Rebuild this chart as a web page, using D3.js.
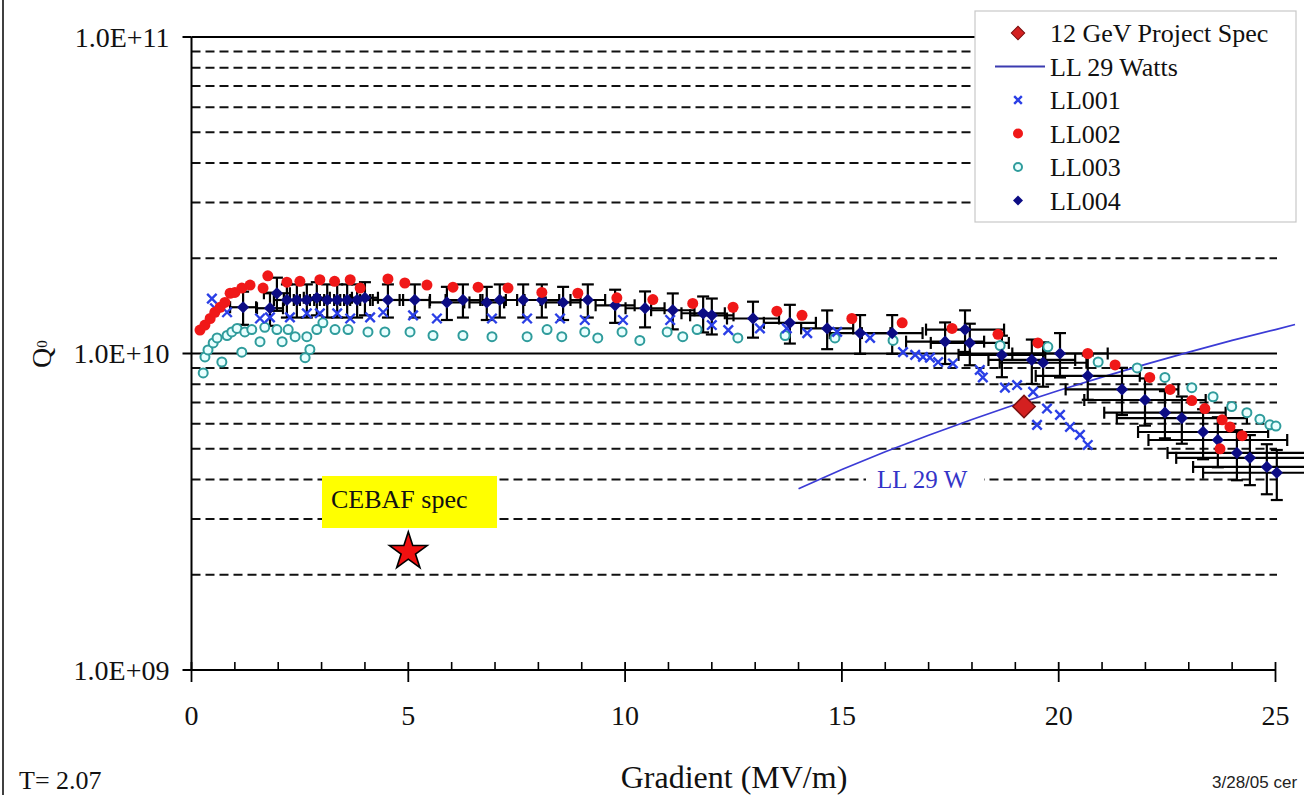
<!DOCTYPE html>
<html><head><meta charset="utf-8">
<script src="https://cdn.jsdelivr.net/npm/d3@7"></script>
<style>
html,body{margin:0;padding:0;background:#fff;}
svg{display:block;}
text{font-family:"Liberation Serif","DejaVu Serif","Times New Roman",serif;}
text.sans{font-family:"Liberation Sans",Arial,sans-serif;}
</style></head><body>
<svg id="c" width="1304" height="795"></svg>
<script>
// ---------------- data ----------------
const ll001E = [0.47,0.54,0.82,1.58,1.81,2.27,2.66,2.96,3.36,3.66,4.12,4.42,5.11,5.66,6.93,7.74,8.50,9.07,9.95,11.04,12.0,12.38,13.11,13.73,14.2,14.89,15.65,16.41,16.69,16.87,17.03,17.22,17.56,18.18,18.25,18.76,19.04,19.41,19.5,19.73,20.03,20.26,20.49,20.67];
const ll001Q = [1.49e10,1.39e10,1.35e10,1.29e10,1.30e10,1.30e10,1.34e10,1.34e10,1.34e10,1.29e10,1.30e10,1.35e10,1.32e10,1.29e10,1.29e10,1.29e10,1.29e10,1.276e10,1.276e10,1.276e10,1.23e10,1.186e10,1.20e10,1.20e10,1.16e10,1.17e10,1.12e10,1.01e10,0.99e10,0.975e10,0.97e10,0.94e10,0.93e10,0.887e10,0.84e10,0.78e10,0.795e10,0.756e10,0.595e10,0.67e10,0.64e10,0.586e10,0.553e10,0.514e10];

const ll002E = [0.196,0.31,0.43,0.54,0.66,0.77,0.89,1.0,1.16,1.35,1.65,1.76,2.2,2.50,2.96,3.3,3.66,3.89,4.53,4.92,5.43,6.03,6.61,7.30,8.08,8.91,9.81,10.64,11.56,12.49,13.5,14.08,15.23,16.39,17.54,18.6,19.52,20.67,21.3,22.1,22.57,23.07,23.37,23.77,23.95,24.23,23.72];
const ll002Q = [1.186e10,1.23e10,1.29e10,1.35e10,1.40e10,1.45e10,1.55e10,1.56e10,1.61e10,1.645e10,1.61e10,1.76e10,1.68e10,1.69e10,1.71e10,1.69e10,1.71e10,1.61e10,1.72e10,1.67e10,1.645e10,1.62e10,1.62e10,1.61e10,1.56e10,1.55e10,1.50e10,1.48e10,1.44e10,1.40e10,1.36e10,1.32e10,1.29e10,1.25e10,1.20e10,1.15e10,1.08e10,1.00e10,0.92e10,0.84e10,0.77e10,0.71e10,0.67e10,0.617e10,0.586e10,0.55e10,0.50e10];

const ll003E = [0.27,0.31,0.38,0.50,0.59,0.70,0.82,0.93,1.05,1.16,1.23,1.39,1.58,1.69,1.97,2.09,2.23,2.39,2.62,2.66,2.73,2.89,3.03,3.31,3.61,4.07,4.46,5.04,5.57,6.26,6.93,7.74,8.2,8.54,9.07,9.37,9.93,10.34,10.97,11.33,11.66,12.6,13.69,14.84,16.18,18.65,19.75,20.91,21.81,22.45,23.07,23.56,23.99,24.34,24.64,24.87,25.01];
const ll003Q = [0.868e10,0.975e10,1.026e10,1.08e10,1.12e10,0.94e10,1.14e10,1.17e10,1.20e10,1.01e10,1.17e10,1.19e10,1.09e10,1.21e10,1.19e10,1.09e10,1.19e10,1.13e10,0.97e10,1.13e10,1.03e10,1.19e10,1.25e10,1.19e10,1.19e10,1.17e10,1.17e10,1.17e10,1.14e10,1.14e10,1.13e10,1.13e10,1.19e10,1.13e10,1.17e10,1.12e10,1.17e10,1.10e10,1.17e10,1.13e10,1.19e10,1.12e10,1.14e10,1.12e10,1.10e10,1.06e10,1.05e10,0.94e10,0.90e10,0.84e10,0.78e10,0.73e10,0.68e10,0.65e10,0.62e10,0.595e10,0.59e10];

const ll004E = [1.19,1.81,1.97,2.20,2.43,2.66,2.89,3.13,3.36,3.59,3.82,4.0,4.53,5.15,5.89,6.26,6.81,7.11,7.65,8.08,8.57,9.14,9.77,10.46,11.1,11.8,12.0,12.95,13.8,14.66,15.42,16.16,17.38,17.84,17.95,18.69,19.38,19.64,20.03,20.67,21.46,21.99,22.45,22.84,23.33,23.67,24.11,24.41,24.8,25.03];
const ll004Q = [1.40e10,1.39e10,1.55e10,1.476e10,1.476e10,1.476e10,1.50e10,1.476e10,1.476e10,1.476e10,1.476e10,1.50e10,1.476e10,1.476e10,1.45e10,1.476e10,1.45e10,1.476e10,1.476e10,1.476e10,1.45e10,1.476e10,1.42e10,1.39e10,1.37e10,1.34e10,1.32e10,1.29e10,1.25e10,1.20e10,1.16e10,1.16e10,1.09e10,1.19e10,1.08e10,0.99e10,0.954e10,0.935e10,1.00e10,0.85e10,0.77e10,0.713e10,0.65e10,0.625e10,0.565e10,0.533e10,0.485e10,0.468e10,0.438e10,0.42e10];
// error bars for LL004: half-width in MV/m and relative Q error
const ll004ErrE = [0.3,0.3,0.3,0.3,0.3,0.3,0.3,0.3,0.3,0.3,0.3,0.3,0.35,0.35,0.4,0.4,0.4,0.4,0.4,0.4,0.4,0.4,0.45,0.45,0.5,0.5,0.5,0.6,0.6,0.6,0.7,0.7,0.9,0.9,0.9,1.0,1.0,1.0,1.1,1.2,1.3,1.4,1.4,1.5,1.5,1.6,1.6,1.7,1.7,1.7];
const ll004ErrQ = [0.12,0.12,0.12,0.12,0.12,0.12,0.12,0.12,0.12,0.12,0.12,0.12,0.12,0.12,0.12,0.12,0.12,0.12,0.12,0.12,0.12,0.12,0.12,0.13,0.13,0.13,0.13,0.13,0.14,0.14,0.14,0.14,0.15,0.15,0.15,0.15,0.16,0.16,0.16,0.16,0.17,0.17,0.17,0.17,0.18,0.18,0.18,0.18,0.18,0.18];

const ll29E = [14.0,15.0,16.0,17.0,18.0,19.0,20.0,21.0,22.0,23.0,24.0,25.0,25.45];
const ll29Q = [3.74e9,4.30e9,4.89e9,5.52e9,6.19e9,6.90e9,7.64e9,8.42e9,9.24e9,1.01e10,1.10e10,1.19e10,1.235e10];

const specE = [19.2];   const specQ = [6.8e9];
const cebafE = [5.0];   const cebafQ = [2.4e9];

const xMajorTicks = [0,5,10,15,20,25];
const xMinorTicks = [1,2,3,4,6,7,8,9,11,12,13,14,16,17,18,19,21,22,23,24];
const yMajorTicks = [1e9,1e10,1e11];
const yTickLabels = ["1.0E+09","1.0E+10","1.0E+11"];
const yMinorGrid = [2e9,3e9,4e9,5e9,6e9,7e9,8e9,9e9,2e10,3e10,4e10,5e10,6e10,7e10,8e10,9e10];
const legendLabels = ["12 GeV Project Spec","LL 29 Watts","LL001","LL002","LL003","LL004"];

// ---------------- drawing ----------------
const SERIF = "'Liberation Serif','DejaVu Serif','Times New Roman',serif";
const svg = d3.select("#c").attr("font-family",SERIF);
const x = d3.scaleLinear().domain([0,25]).range([191.5,1275.5]);
const y = d3.scaleLog().domain([1e9,1e11]).range([670,37]);
const gridEnd = 1277;

// slide frame line
svg.append("line").attr("x1",3).attr("x2",3).attr("y1",0).attr("y2",795)
  .attr("stroke","#000").attr("stroke-width",1.5);

// gridlines
svg.append("g").selectAll("line").data(yMinorGrid).join("line")
  .attr("x1",x(0)).attr("x2",gridEnd).attr("y1",d=>y(d)).attr("y2",d=>y(d))
  .attr("stroke","#111").attr("stroke-width",2).attr("stroke-dasharray","9,5");
svg.append("g").selectAll("line").data([1e10,1e11]).join("line")
  .attr("x1",x(0)).attr("x2",gridEnd).attr("y1",d=>y(d)).attr("y2",d=>y(d))
  .attr("stroke","#000").attr("stroke-width",2);

// axes
svg.append("line").attr("x1",x(0)).attr("x2",x(0)).attr("y1",y(1e11)).attr("y2",y(1e9))
  .attr("stroke","#000").attr("stroke-width",2);
svg.append("line").attr("x1",x(0)).attr("x2",x(25)).attr("y1",y(1e9)).attr("y2",y(1e9))
  .attr("stroke","#000").attr("stroke-width",2.2);
svg.append("g").selectAll("line").data(yMajorTicks).join("line")
  .attr("x1",x(0)-9).attr("x2",x(0)).attr("y1",d=>y(d)).attr("y2",d=>y(d))
  .attr("stroke","#000").attr("stroke-width",2);
svg.append("g").selectAll("text").data(yMajorTicks).join("text")
  .attr("x",x(0)-22).attr("y",d=>y(d)+9.5).attr("text-anchor","end").attr("font-family",SERIF)
  .attr("font-size",28).attr("fill","#111").text((d,i)=>yTickLabels[i]);
svg.append("g").selectAll("line").data(xMinorTicks).join("line")
  .attr("x1",d=>x(d)).attr("x2",d=>x(d)).attr("y1",y(1e9)-8).attr("y2",y(1e9))
  .attr("stroke","#000").attr("stroke-width",1.6);
svg.append("g").selectAll("line").data(xMajorTicks).join("line")
  .attr("x1",d=>x(d)).attr("x2",d=>x(d)).attr("y1",y(1e9)-8).attr("y2",y(1e9)+12)
  .attr("stroke","#000").attr("stroke-width",1.8);
svg.append("g").selectAll("text").data(xMajorTicks).join("text")
  .attr("x",d=>x(d)).attr("y",725).attr("text-anchor","middle").attr("font-family",SERIF)
  .attr("font-size",28).attr("fill","#111").text(d=>d);

// axis titles & notes
svg.append("text").attr("x",734).attr("y",788).attr("text-anchor","middle").attr("font-family",SERIF)
  .attr("font-size",32).attr("fill","#111").text("Gradient (MV/m)");
const qt = svg.append("text").attr("transform","translate(51,368) rotate(-90)").attr("font-family",SERIF)
  .attr("font-size",28).attr("fill","#111");
qt.append("tspan").text("Q");
qt.append("tspan").attr("font-size",15).attr("dy",-4).text("0");
svg.append("text").attr("x",19).attr("y",789).attr("font-family",SERIF).attr("font-size",26).attr("fill","#111").text("T= 2.07");
svg.append("text").attr("class","sans").attr("x",1212).attr("y",788).attr("font-size",17)
  .attr("font-family","'Liberation Sans',Arial,sans-serif").attr("fill","#222").text("3/28/05 cer");

// LL 29 W line
const line = d3.line().x(d=>x(d[0])).y(d=>y(d[1]));
svg.append("path").datum(ll29E.map((e,i)=>[e,ll29Q[i]])).attr("d",line)
  .attr("fill","none").attr("stroke","#3b3bd6").attr("stroke-width",1.7);
// LL 29 W label
svg.append("rect").attr("x",866).attr("y",468).attr("width",118).attr("height",26).attr("fill","#fff");
svg.append("text").attr("x",877).attr("y",488).attr("font-family",SERIF).attr("font-size",25).attr("fill","#3434c8").text("LL 29 W");

// error bars LL004
const eb = svg.append("g").attr("stroke","#000").attr("stroke-width",2.2);
ll004E.forEach((e,i)=>{
  const q = ll004Q[i], dq = ll004ErrQ[i], de = ll004ErrE[i];
  const cx = x(e), cy = y(q);
  const yt = y(q*(1+dq)), yb = y(q*(1-dq));
  const xl = x(e-de), xr = x(e+de);
  eb.append("line").attr("x1",cx).attr("x2",cx).attr("y1",yt).attr("y2",yb);
  eb.append("line").attr("x1",cx-6).attr("x2",cx+6).attr("y1",yt).attr("y2",yt);
  eb.append("line").attr("x1",cx-6).attr("x2",cx+6).attr("y1",yb).attr("y2",yb);
  eb.append("line").attr("x1",xl).attr("x2",xr).attr("y1",cy).attr("y2",cy);
  eb.append("line").attr("x1",xl).attr("x2",xl).attr("y1",cy-6).attr("y2",cy+6);
  eb.append("line").attr("x1",xr).attr("x2",xr).attr("y1",cy-6).attr("y2",cy+6);
});

// LL003 open circles
svg.append("g").selectAll("circle").data(ll003E).join("circle")
  .attr("cx",d=>x(d)).attr("cy",(d,i)=>y(ll003Q[i])).attr("r",4.5)
  .attr("fill","#eaffff").attr("stroke","#2f9c9c").attr("stroke-width",2);
// LL001 crosses
const xs = d3.symbol(d3.symbolTimes,60)();
svg.append("g").selectAll("path").data(ll001E).join("path")
  .attr("transform",(d,i)=>`translate(${x(d)},${y(ll001Q[i])})`).attr("d",xs)
  .attr("fill","none").attr("stroke","#2a3fe6").attr("stroke-width",2.4);
// LL004 diamonds
const sq = d3.symbol(d3.symbolSquare,75)();
svg.append("g").selectAll("path").data(ll004E).join("path")
  .attr("transform",(d,i)=>`translate(${x(d)},${y(ll004Q[i])}) rotate(45)`).attr("d",sq)
  .attr("fill","#0c0c84");
// LL002 red dots
svg.append("g").selectAll("circle").data(ll002E).join("circle")
  .attr("cx",d=>x(d)).attr("cy",(d,i)=>y(ll002Q[i])).attr("r",5.5)
  .attr("fill","#f01818");

// 12 GeV spec diamond
svg.append("g").selectAll("path").data(specE).join("path")
  .attr("transform",(d,i)=>`translate(${x(d)},${y(specQ[i])}) rotate(45)`)
  .attr("d",d3.symbol(d3.symbolSquare,250)())
  .attr("fill","#d42020").attr("stroke","#7a1010").attr("stroke-width",1.5);

// CEBAF spec
svg.append("rect").attr("x",322).attr("y",476).attr("width",175).attr("height",52).attr("fill","#ffff00");
svg.append("text").attr("x",331).attr("y",508).attr("font-family",SERIF).attr("font-size",26).attr("fill","#111").text("CEBAF spec");
svg.append("g").selectAll("path").data(cebafE).join("path")
  .attr("transform",(d,i)=>`translate(${x(d)},${y(cebafQ[i])+2})`)
  .attr("d",d3.symbol(d3.symbolStar,440)())
  .attr("fill","#f01010").attr("stroke","#000").attr("stroke-width",1.6);

// legend
const lg = svg.append("g");
lg.append("rect").attr("x",975).attr("y",11).attr("width",321).attr("height",211)
  .attr("fill","#fff").attr("stroke","#c8c8c8").attr("stroke-width",1.2);
const rowY = i => 33 + i*33.5;
lg.selectAll("text").data(legendLabels).join("text")
  .attr("x",1050).attr("y",(d,i)=>rowY(i)+9).attr("font-family",SERIF).attr("font-size",26).attr("fill","#111").text(d=>d);
const mx = 1018;
lg.append("path").attr("transform",`translate(${mx},${rowY(0)}) rotate(45)`)
  .attr("d",d3.symbol(d3.symbolSquare,90)()).attr("fill","#d42020").attr("stroke","#7a1010");
lg.append("line").attr("x1",995).attr("x2",1045).attr("y1",rowY(1)).attr("y2",rowY(1))
  .attr("stroke","#3b3bb0").attr("stroke-width",2);
lg.append("path").attr("transform",`translate(${mx},${rowY(2)})`).attr("d",d3.symbol(d3.symbolTimes,40)())
  .attr("fill","none").attr("stroke","#2a3fe6").attr("stroke-width",2.4);
lg.append("circle").attr("cx",mx).attr("cy",rowY(3)).attr("r",5).attr("fill","#f01818");
lg.append("circle").attr("cx",mx).attr("cy",rowY(4)).attr("r",4).attr("fill","#eaffff")
  .attr("stroke","#2f9c9c").attr("stroke-width",2);
lg.append("path").attr("transform",`translate(${mx},${rowY(5)}) rotate(45)`)
  .attr("d",d3.symbol(d3.symbolSquare,50)()).attr("fill","#0c0c84");
</script>
</body></html>
